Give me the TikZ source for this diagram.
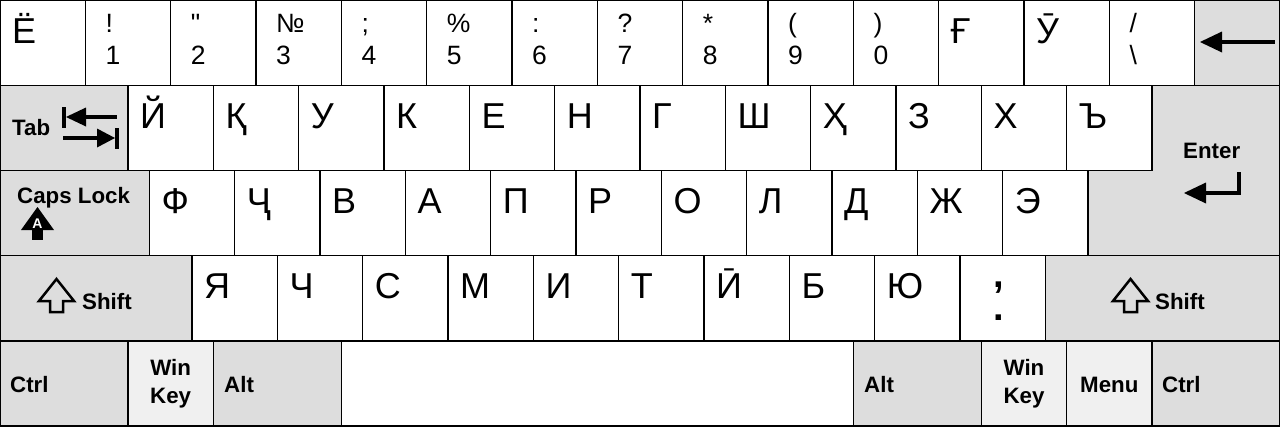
\documentclass[tikz,border=0pt]{standalone}
\usepackage{fontspec}
\setmainfont{Liberation Sans}
\newfontfamily\plainf{Liberation Sans}
\definecolor{keygray}{RGB}{221,221,221}
\definecolor{keylight}{RGB}{240,240,240}
\newcommand\bigf{\fontsize{36}{36}\selectfont}
\newcommand\midf{\fontsize{26.5}{26.5}\selectfont}
\newcommand\labf{\bfseries\fontsize{22.3}{22.3}\selectfont}
\begin{document}
\begin{tikzpicture}[x=1pt,y=-1pt,
  kb/.style={draw=black,line width=1.4pt,fill=white},
  gk/.style={kb,fill=keygray},
  lk/.style={kb,fill=keylight},
  lt/.style={anchor=base west,inner sep=0pt,font=\bigf},
  dt/.style={anchor=base west,inner sep=0pt,font=\midf},
  bl/.style={anchor=base west,inner sep=0pt,font=\labf},
  bc/.style={anchor=base,inner sep=0pt,font=\labf},
  pc/.style={inner sep=0pt,anchor=base,align=center,font=\bfseries\fontsize{38}{33}\selectfont},
  icon/.style={fill=black,draw=none}]
\useasboundingbox (0,0) rectangle (1280,426);
% ---------- row 1
\foreach \i in {0,...,13} \draw[kb] ({\i*85.333},0) rectangle ({(\i+1)*85.333},85.2);
\draw[gk] (1194.667,0) rectangle (1280,85.2);
\node[lt] (kyo) at (12,43) {Ё};
\foreach \s/\d [count=\i] in {!/1,{{\plainf"}}/2,№/3,;/4,{\%}/5,:/6,?/7,*/8,{(}/9,{)}/0}{
  \node[dt] (s\i) at ({\i*85.333+20},32) {\s};
  \node[dt] (d\i) at ({\i*85.333+20},64) {\d};
}
\node[lt] (kgh) at (950.67,43) {Ғ};
\node[lt] (kuu) at (1036,43) {Ӯ};
\node[dt] (ksl) at (1129.33,32) {/};
\node[dt] (kbs) at (1129.33,64) {\textbackslash};
% backspace arrow
\fill[icon] (1200,42) -- (1222,31.5) -- (1222,52.5) -- cycle;
\fill[icon] (1221,40) rectangle (1275,44);
% ---------- row 2
\draw[gk] (0,85.2) rectangle (128,170.4);
\foreach \i in {0,...,11} \draw[kb] ({128+\i*85.333},85.2) rectangle ({128+(\i+1)*85.333},170.4);
\foreach \t [count=\i from 0] in {Й,Қ,У,К,Е,Н,Г,Ш,Ҳ,З,Х,Ъ}
  \node[lt] (r2-\i) at ({128+\i*85.333+12},128.2) {\t};
\node[bl] (tab) at (12,135) {Tab};
\fill[icon] (62,107) rectangle (66,128);
\fill[icon] (66,117) -- (86,107.5) -- (86,126.5) -- cycle;
\fill[icon] (85,115) rectangle (117,119);
\fill[icon] (63,136) rectangle (98,140);
\fill[icon] (115,138) -- (97,128.5) -- (97,147.5) -- cycle;
\fill[icon] (115,128) rectangle (119,149);
% enter
\draw[gk] (1152,85.2) -- (1280,85.2) -- (1280,255.6) -- (1088,255.6) -- (1088,170.4) -- (1152,170.4) -- cycle;
\node[bl] (ent) at (1183,158) {Enter};
\draw[line width=4pt] (1239,172) -- (1239,193) -- (1203,193);
\fill[icon] (1184,193) -- (1206,182.5) -- (1206,203.5) -- cycle;
% ---------- row 3
\draw[gk] (0,170.4) rectangle (149.333,255.6);
\foreach \i in {0,...,10} \draw[kb] ({149.333+\i*85.333},170.4) rectangle ({149.333+(\i+1)*85.333},255.6);
\foreach \t [count=\i from 0] in {Ф,Ҷ,В,А,П,Р,О,Л,Д,Ж,Э}
  \node[lt] (r3-\i) at ({149.333+\i*85.333+12},213.4) {\t};
\node[bl] (caps) at (17,203) {Caps Lock};
\fill[icon] (21,230) -- (54,230) -- (37.5,207) -- cycle;
\fill[icon] (32,229) rectangle (43,240);
\node[inner sep=0pt,text=white,font=\bfseries\fontsize{14}{14}\selectfont,anchor=base] (capa) at (37.5,228) {A};
% ---------- row 4
\draw[gk] (0,255.6) rectangle (192,340.8);
\foreach \i in {0,...,9} \draw[kb] ({192+\i*85.333},255.6) rectangle ({192+(\i+1)*85.333},340.8);
\draw[gk] (1045.333,255.6) rectangle (1280,340.8);
\foreach \t [count=\i from 0] in {Я,Ч,С,М,И,Т,Ӣ,Б,Ю}
  \node[lt] (r4-\i) at ({192+\i*85.333+12},298.6) {\t};
\node[pc] (kcm) at (999,320) {,\\.};
\draw[line width=2.5pt,line join=miter] (56.5,279) -- (74,301) -- (63,301) -- (63,312) -- (50,312) -- (50,301) -- (39,301) -- cycle;
\node[bl] (lsh) at (82,309) {Shift};
\draw[line width=2.5pt,line join=miter] (1130.5,279) -- (1148,301) -- (1137,301) -- (1137,312) -- (1124,312) -- (1124,301) -- (1113,301) -- cycle;
\node[bl] (rsh) at (1155,309) {Shift};
% ---------- row 5
\draw[gk] (0,340.8) rectangle (128,426);
\draw[lk] (128,340.8) rectangle (213.333,426);
\draw[gk] (213.333,340.8) rectangle (341.333,426);
\draw[kb] (341.333,340.8) rectangle (853.333,426);
\draw[gk] (853.333,340.8) rectangle (981.333,426);
\draw[lk] (981.333,340.8) rectangle (1066.667,426);
\draw[lk] (1066.667,340.8) rectangle (1152,426);
\draw[gk] (1152,340.8) rectangle (1280,426);
\node[bl] (lctrl) at (10,392) {Ctrl};
\node[bc] (lwin1) at (170.67,375) {Win};
\node[bc] (lwin2) at (170.67,403) {Key};
\node[bl] (lalt) at (224,392) {Alt};
\node[bl] (ralt) at (864,392) {Alt};
\node[bc] (rwin1) at (1024,375) {Win};
\node[bc] (rwin2) at (1024,403) {Key};
\node[bc] (menu) at (1109.33,392) {Menu};
\node[bl] (rctrl) at (1162,392) {Ctrl};
\end{tikzpicture}
\end{document}
